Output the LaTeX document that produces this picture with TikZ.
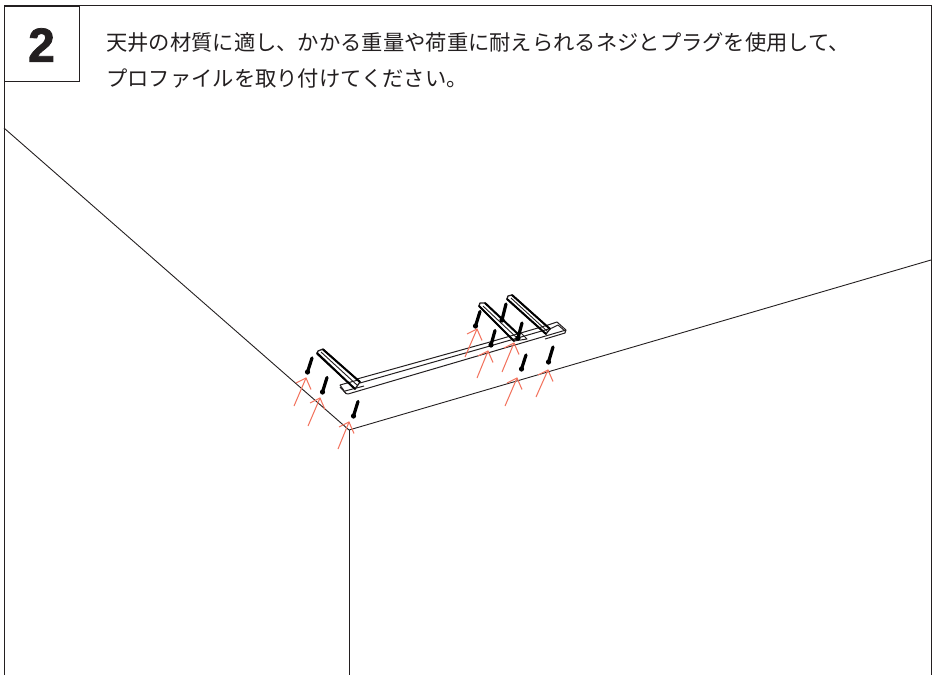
\documentclass[tikz,border=0pt]{standalone}
\usepackage{fontspec}
\setmainfont{Noto Sans CJK JP}
\newfontfamily\numfont{Liberation Sans Bold}[FakeBold=1.6]
\definecolor{arrowred}{HTML}{F2745F}
\definecolor{inkk}{HTML}{231F20}
\tikzset{
  frameline/.style={draw=inkk,line width=1pt},
  wallline/.style={draw=inkk,line width=0.9pt},
  railline/.style={draw=inkk,line width=1pt,line join=round},
  brk/.style={draw=inkk,line width=1.3pt,line join=round},
  brkheavy/.style={draw=black,line width=2pt,line cap=round},
  brkthin/.style={draw=inkk,line width=0.9pt},
  screwshaft/.style={draw=black,line width=3.2pt,line cap=round},
  redline/.style={draw=arrowred,line width=1.05pt},
  bodytext/.style={font=\fontsize{21.3}{21.3}\selectfont,text=inkk,anchor=base west,inner sep=0pt},
}
\newcommand{\redarrow}[4]{% tail x,y, tip x,y
  \draw[redline] (#1,#2) -- (#3,#4);
  \draw[redline] ($(#3,#4)+(-10,5)$) -- (#3,#4) -- ($(#3,#4)+(5,11.5)$);
}
\newcommand{\screw}[4]{% top x,y, bottom x,y
  \draw[screwshaft] (#1,#2) -- (#3,#4);
  \fill[black] (#3,#4) circle (2.6);
}
\usetikzlibrary{calc}
\begin{document}
\begin{tikzpicture}[x=1pt,y=-1pt]
\useasboundingbox (0,0) rectangle (933,675);
% frame
\draw[frameline] (4,675) -- (4,5.5) -- (931,5.5) -- (931,675);
\node[draw=inkk,line width=1pt,minimum size=75pt,inner sep=0pt,anchor=north west] (numbox) at (4,5.5) {};
\node[font=\numfont\fontsize{48}{48}\selectfont,text=inkk,inner sep=0pt] (num) at (41.5,45) {2};
\node[bodytext] (line1) at (106,50.5) {天井の材質に適し、かかる重量や荷重に耐えられるネジとプラグを使用して、};
\node[bodytext] (line2) at (106,86.5) {プロファイルを取り付けてください。};
% walls
\coordinate (corner) at (349,430);
\draw[wallline] (4,128) -- (corner);
\draw[wallline] (corner) -- (931,260);
\draw[wallline] (corner) -- (349,675);
% rail plate
\draw[railline] (340,385) -- (358,380);
\draw[railline] (340,385) -- (346,393.5) -- (348,394) -- (566,330);
\draw[railline] (346,393.5) -- (340,387);
\draw[railline] (357,379) -- (490,342) -- (548,325) -- (557,322) -- (566,330) -- (565,333) -- (545,339);
\draw[railline] (360,383) -- (490,346) -- (552,328) -- (558,325) -- (565,331);
\draw[railline] (345,391) -- (364,386);
% left bracket
\draw[brk] (318,351) -- (323,349) -- (360,382) -- (355,389) -- (317,354) -- cycle;
\draw[brkthin] (321,352) -- (357,385);
\draw[brkheavy] (323,349.5) -- (360,382);
\draw[brkheavy] (317,353) -- (355,389);
% right brackets
\draw[brk] (480,303) -- (485,303) -- (519,335) -- (514,341) -- (479,306) -- cycle;
\draw[brkthin] (483,306) -- (517,338);
\draw[brkheavy] (485,303) -- (519,335);
\draw[brkheavy] (479,306) -- (514,341);
\draw[railline] (514,341) -- (527,339) -- (519,331);
\draw[brk] (508,296) -- (512,295) -- (550,329) -- (546,334) -- (507,299) -- cycle;
\draw[brkthin] (511,298) -- (548,332);
\draw[brkheavy] (512,295) -- (550,329);
\draw[brkheavy] (507,299) -- (546,334);
% screws
\screw{312}{358}{307.5}{372}
\screw{327}{377.5}{322.5}{392}
\screw{358}{401.5}{353.5}{416}
\screw{480}{311.5}{475.5}{326}
\screw{495}{330.5}{491}{345}
\screw{506}{304}{502}{320}
\screw{522}{323}{518}{338}
\screw{526}{355}{521.5}{369}
\screw{553}{347}{548.5}{362}
% red arrows
\redarrow{294}{406}{306}{378}
\redarrow{308}{426}{320}{398}
\redarrow{338}{449}{349}{422}
\redarrow{465}{357}{477}{329}
\redarrow{477}{378}{488}{351}
\redarrow{502}{372}{514}{343}
\redarrow{505}{406}{517}{378}
\redarrow{536}{397}{548}{370}
\end{tikzpicture}
\end{document}
